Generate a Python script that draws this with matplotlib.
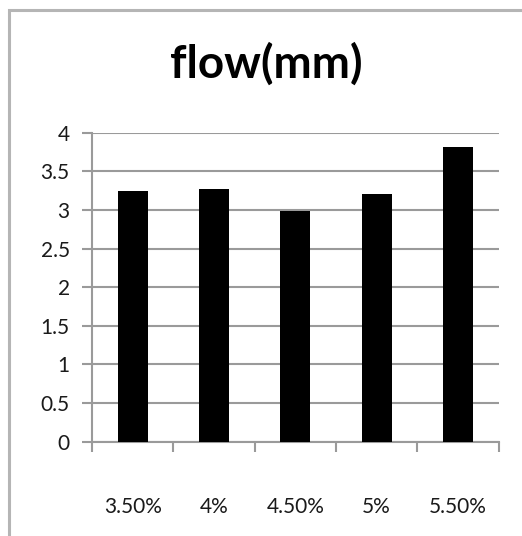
import matplotlib
matplotlib.use("Agg")
import matplotlib.pyplot as plt
from matplotlib.patches import Rectangle

categories = ["3.50%", "4%", "4.50%", "5%", "5.50%"]
values = [3.24, 3.27, 2.99, 3.21, 3.82]
yticks = [0, 0.5, 1, 1.5, 2, 2.5, 3, 3.5, 4]
ytick_labels = ["0", "0.5", "1", "1.5", "2", "2.5", "3", "3.5", "4"]

plt.rcParams['font.family'] = ['Lato', 'DejaVu Sans']

W, H = 522, 536
fig = plt.figure(figsize=(W / 100, H / 100), dpi=100)
fig.patch.set_facecolor('white')

# outer chart frame (cropped at right and bottom)
fig.patches.append(Rectangle((9 / W, -0.05), 1.1, 1 - 9 / H + 0.05 - 0.001,
                             transform=fig.transFigure, fill=False,
                             edgecolor='#b5b5b5', linewidth=2.2))

ax = fig.add_axes([92 / W, 1 - 441.7 / H, (498.5 - 92) / W, (441.7 - 132.7) / H])
x = list(range(len(categories)))
ax.bar(x, values, width=0.37, color='black', zorder=3)

ax.set_xlim(-0.5, len(categories) - 0.5)
ax.set_ylim(0, 4)
ax.set_yticks(yticks)
ax.set_yticklabels(ytick_labels)
ax.yaxis.grid(True, color='#9a9a9a', linewidth=1.5, zorder=0)
ax.set_axisbelow(True)

ax.set_xticks(x)
ax.set_xticklabels(categories)
ax.set_xticks([i - 0.5 for i in range(len(categories) + 1)], minor=True)
ax.tick_params(axis='x', which='major', length=0, pad=40, labelsize=15, labelcolor='#1a1a1a')
ax.tick_params(axis='x', which='minor', length=7, width=1.5, color='#9a9a9a', direction='out')
ax.tick_params(axis='y', length=7, width=1.5, color='#9a9a9a', pad=9, labelsize=15, labelcolor='#1a1a1a')

for s in ['top', 'right']:
    ax.spines[s].set_visible(False)
for s in ['left', 'bottom']:
    ax.spines[s].set_color('#9a9a9a')
    ax.spines[s].set_linewidth(1.5)

fig.text(266 / W, 1 - 64 / H, "flow(mm)", ha='center', va='center',
         fontsize=33, fontweight='bold', color='black')

fig.savefig("out.png", dpi=100)
